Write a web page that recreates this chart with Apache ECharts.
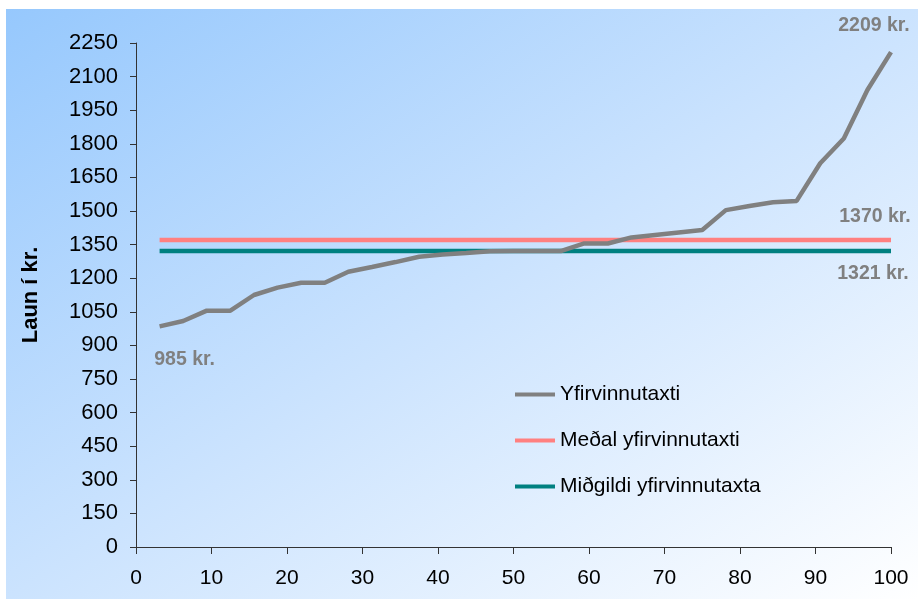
<!DOCTYPE html>
<html><head><meta charset="utf-8">
<script src="https://cdn.jsdelivr.net/npm/echarts@6/dist/echarts.min.js"></script>
<style>html,body{margin:0;padding:0;background:#fff}#c{width:918px;height:599px}</style>
</head><body><div id="c"></div>
<script>
// Percentile positions (x) and overtime rates (kr.)
const xs = [3.125,6.25,9.375,12.5,15.625,18.75,21.875,25,28.125,31.25,34.375,37.5,40.625,43.75,46.875,50,53.125,56.25,59.375,62.5,65.625,68.75,71.875,75,78.125,81.25,84.375,87.5,90.625,93.75,96.875,100];
const rates = [985,1009,1055,1055,1125,1158,1180,1180,1229,1250,1272,1296,1306,1312,1320,1321,1321,1321,1355,1355,1382,1393,1404,1415,1504,1522,1539,1545,1713,1824,2040,2209];
const meanValue = 1370;
const medianValue = 1321;
const seriesNames = ['Yfirvinnutaxti','Meðal yfirvinnutaxti','Miðgildi yfirvinnutaxta'];
const yAxisTitle = 'Laun í kr.';

const font = 'Liberation Sans, Arial, sans-serif';
const lblStyle = {show:true, color:'#808080', fontWeight:'bold', fontSize:19.5, fontFamily:font, formatter: p => p.value[1] + ' kr.'};

const rateData = xs.map((x,i)=>{
  const d = {value:[x, rates[i]]};
  if (i===0) d.label = Object.assign({}, lblStyle, {position:'bottom', offset:[25,18]});
  if (i===xs.length-1) d.label = Object.assign({}, lblStyle, {position:'top', offset:[-17,-12]});
  return d;
});
const flat = (v, pos, off) => [
  {value:[xs[0], v]},
  {value:[xs[xs.length-1], v], label:Object.assign({}, lblStyle, {position:pos, offset:off})}
];

const chart = echarts.init(document.getElementById('c'), null, {renderer:'canvas'});
chart.setOption({
  animation:false,
  backgroundColor:'#ffffff',
  graphic:[{
    type:'rect', z:-10, silent:true,
    shape:{x:6, y:9, width:912, height:590},
    style:{fill:new echarts.graphic.LinearGradient(6,9,544,841,[
      {offset:0, color:'#96c8fd'},
      {offset:0.5, color:'#cbe3fe'},
      {offset:1, color:'#ffffff'}
    ], true)}
  }],
  grid:{left:136, right:27, top:43, bottom:52},
  legend:{
    orient:'vertical', left:515, top:384, padding:0,
    icon:'rect', itemWidth:40, itemHeight:4, itemGap:25,
    textStyle:{fontSize:21, fontFamily:font, color:'#000'},
    data:seriesNames
  },
  xAxis:{
    type:'value', min:0, max:100, interval:10,
    axisLine:{lineStyle:{color:'#333', width:1}},
    axisTick:{length:7, lineStyle:{color:'#333'}},
    splitLine:{show:false},
    axisLabel:{fontSize:21, fontFamily:font, color:'#000', margin:21}
  },
  yAxis:{
    type:'value', min:0, max:2250, interval:150,
    name:yAxisTitle, nameLocation:'middle', nameGap:94, nameRotate:90,
    nameTextStyle:{fontSize:22, fontWeight:'bold', fontFamily:font, color:'#000'},
    axisLine:{show:true, lineStyle:{color:'#333', width:1}},
    axisTick:{show:true, length:6, lineStyle:{color:'#333'}},
    splitLine:{show:false},
    axisLabel:{fontSize:22, fontFamily:font, color:'#000', margin:18, formatter: v => String(v)}
  },
  series:[
    {name:seriesNames[0], type:'line', data:rateData, symbol:'circle', symbolSize:0, z:3,
     lineStyle:{color:'#808080', width:4.5}, itemStyle:{color:'#808080'}},
    {name:seriesNames[1], type:'line', data:flat(meanValue,'top',[-16,-8]), symbol:'circle', symbolSize:0, z:2,
     lineStyle:{color:'#ff8080', width:4.5}, itemStyle:{color:'#ff8080'}},
    {name:seriesNames[2], type:'line', data:flat(medianValue,'bottom',[-18,8]), symbol:'circle', symbolSize:0, z:2,
     lineStyle:{color:'#008080', width:4.5}, itemStyle:{color:'#008080'}}
  ]
});
</script></body></html>
